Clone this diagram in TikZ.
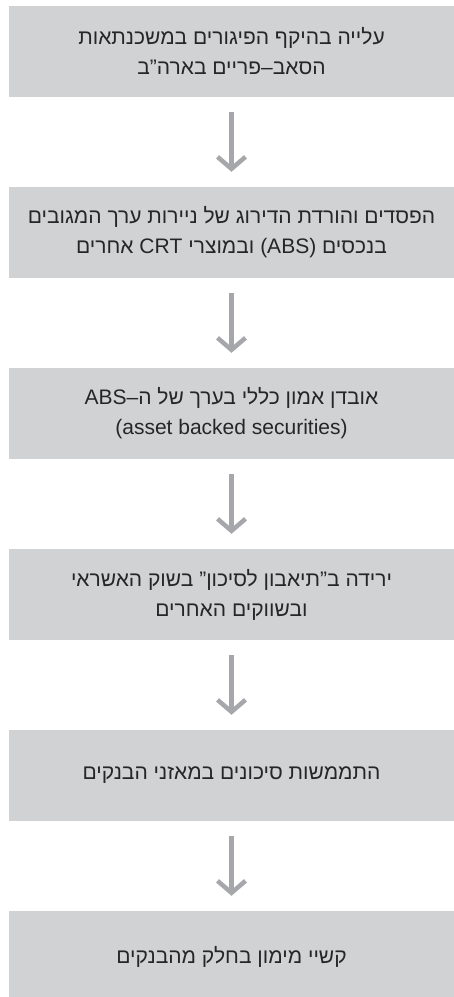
\documentclass[tikz,border=0pt]{standalone}
\usepackage{fontspec}
\setmainfont[Script=Hebrew]{Liberation Sans}
\TeXXeTstate=1
\usepackage{tikz}
\usetikzlibrary{positioning,arrows.meta}
\definecolor{boxgray}{HTML}{D1D2D4}
\definecolor{arrowgray}{HTML}{A6A7AA}
\definecolor{textgray}{HTML}{262626}
\newcommand{\heb}[1]{\beginR #1\endR}

\begin{document}
\begin{tikzpicture}[x=1pt,y=1pt,node distance=181pt,on grid,
    stage/.style={fill=boxgray,text=textgray,minimum width=445pt,minimum height=91pt,
      align=center,inner sep=0pt,font=\fontsize{21}{30}\selectfont},
    flow/.style={arrowgray,line width=4.5pt,shorten <=15pt,shorten >=15pt,
      -{Straight Barb[length=12pt,width=28pt,line width=4.5pt]}}]
    \useasboundingbox (0,0) rectangle (454,-997);
    \node[stage] (s1) at (231.5,-51.5) {\heb{עלייה בהיקף הפיגורים במשכנתאות}\\\heb{הסאב–פריים בארה"ב}};
    \node[stage] (s2) [below = of s1] {\heb{הפסדים והורדת הדירוג של ניירות ערך המגובים}\\\heb{בנכסים \beginL(ABS)\endL{} ובמוצרי CRT אחרים}};
    \node[stage] (s3) [below = of s2] {\heb{אובדן אמון כללי בערך של ה–\beginL ABS\endL}\\(asset backed securities)};
    \node[stage] (s4) [below = of s3] {\heb{ירידה ב"תיאבון לסיכון" בשוק האשראי}\\\heb{ובשווקים האחרים}};
    \node[stage] (s5) [below = of s4] {\heb{התממשות סיכונים במאזני הבנקים}};
    \node[stage] (s6) [below = of s5] {\heb{קשיי מימון בחלק מהבנקים}};
    \foreach \a/\b in {s1/s2,s2/s3,s3/s4,s4/s5,s5/s6}
      \draw[flow] (\a) -- (\b);
\end{tikzpicture}
\end{document}
